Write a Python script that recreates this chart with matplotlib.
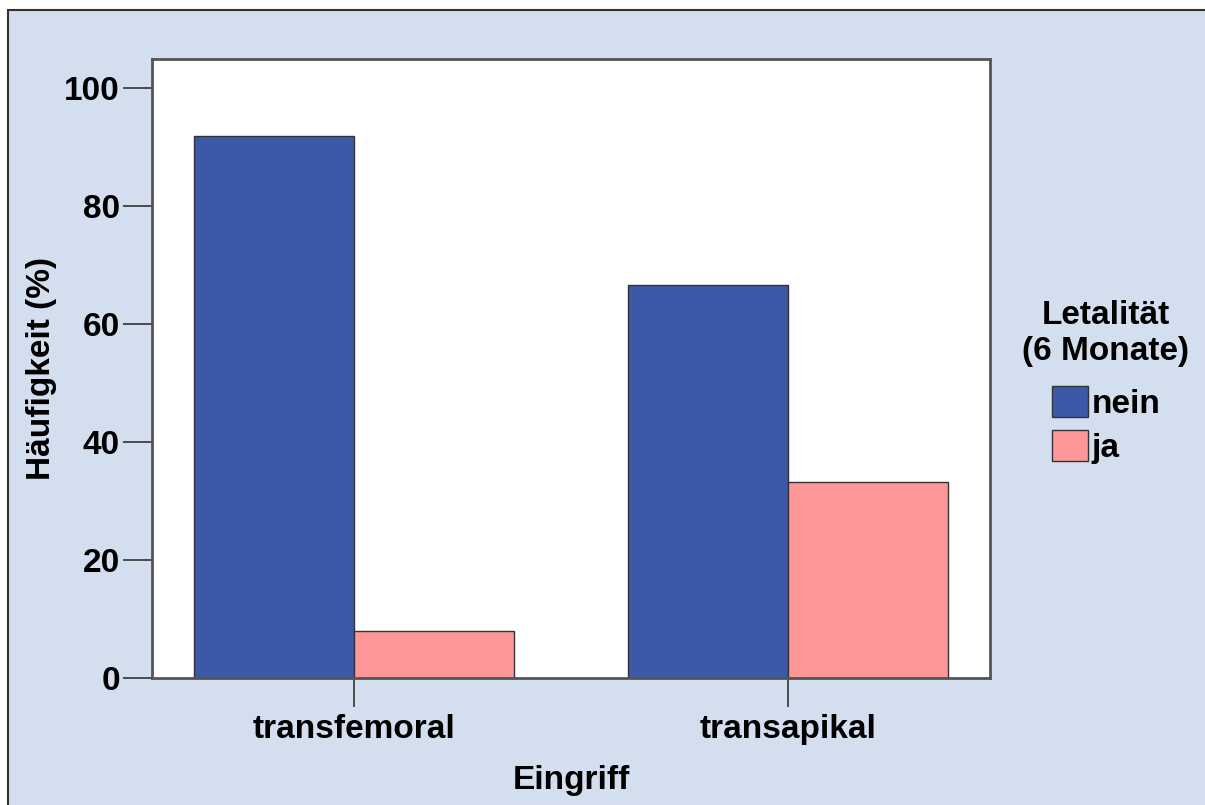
import matplotlib.pyplot as plt
import numpy as np
from matplotlib.patches import Patch

categories = ['transfemoral', 'transapikal']
nein = [92.0, 66.7]
ja = [8.0, 33.3]
series_names = ['nein', 'ja']

plt.rcParams['font.family'] = ['Liberation Sans', 'DejaVu Sans']
plt.rcParams['font.weight'] = 'bold'

bg = '#d3deee'
blue = '#3c58a8'
pink = '#fe9797'
fs = 24

fig = plt.figure(figsize=(12.05, 8.05), dpi=100)
fig.patch.set_facecolor('white')
# hintergrund mit rahmen oben/links
fig.patches.append(plt.Rectangle((8 / 1205, -0.5), 1.5, 1.5 - 10 / 805, transform=fig.transFigure,
                                 facecolor=bg, edgecolor='#333333', linewidth=1.5, zorder=-10))

ax = fig.add_axes([152 / 1205, 1 - 678 / 805, 838 / 1205, 619 / 805])
ax.set_facecolor('white')

x = np.arange(len(categories))
w = 0.3687
ax.bar(x - w / 2, nein, w, color=blue, edgecolor='#333333', linewidth=1.0, label='nein')
ax.bar(x + w / 2, ja, w, color=pink, edgecolor='#333333', linewidth=1.0, label='ja')

ax.set_xlim(-0.4654, 1.4654)
ax.set_ylim(0, 105)
ax.set_yticks([0, 20, 40, 60, 80, 100])
ax.set_xticks(x)
ax.set_xticklabels(categories)
ax.tick_params(axis='both', labelsize=fs, length=21, width=1.2, color='#333333', pad=2)
ax.tick_params(axis='x', pad=5)

for s in ax.spines.values():
    s.set_color('#555555')
    s.set_linewidth(2)

ax.set_xlabel('Eingriff', fontsize=fs, fontweight='bold', labelpad=14)
ax.set_ylabel('Häufigkeit (%)', fontsize=fs, fontweight='bold', labelpad=5)

handles = [Patch(facecolor=blue, edgecolor='#333333'), Patch(facecolor=pink, edgecolor='#333333')]
leg = fig.legend(handles, series_names, title='Letalität\n(6 Monate)', loc='center',
                 bbox_to_anchor=(1106 / 1205, 1 - 382 / 805), frameon=False,
                 fontsize=fs, title_fontsize=fs, handlelength=1.1, handleheight=1.05,
                 handletextpad=0.1, labelspacing=0.3)
leg.get_title().set_fontweight('bold')
leg.get_title().set_multialignment('center')
leg.get_title().set_linespacing(1.2)
leg._legend_box.sep = 14

fig.savefig('out.png', dpi=100, facecolor=fig.get_facecolor())
